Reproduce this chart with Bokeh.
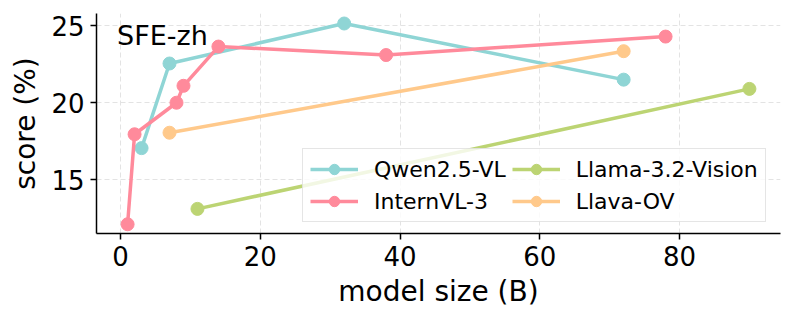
from bokeh.plotting import figure
from bokeh.models import Legend, LegendItem, Label, FixedTicker, Range1d
from bokeh.embed import file_html
from bokeh.resources import INLINE

# ---- data ----
qwen_x = [3, 7, 32, 72]
qwen_y = [17.05, 22.55, 25.15, 21.5]
intern_x = [1, 2, 8, 9, 14, 38, 78]
intern_y = [12.1, 17.95, 20.0, 21.1, 23.65, 23.1, 24.3]
llama_x = [11, 90]
llama_y = [13.1, 20.9]
llava_x = [7, 72]
llava_y = [18.05, 23.35]

series_names = ["Qwen2.5-VL", "InternVL-3", "Llama-3.2-Vision", "Llava-OV"]
series_colors = ["#8fd5d5", "#ff8a9b", "#bcd473", "#ffc98b"]
x_ticks = [0, 20, 40, 60, 80]
y_ticks = [15, 20, 25]
title_text = "SFE-zh"
x_label = "model size (B)"
y_label = "score (%)"

FONT = "DejaVu Sans"

p = figure(width=793, height=323, output_backend="svg", toolbar_location=None,
           x_range=Range1d(-3.45, 94.45), y_range=Range1d(11.5, 25.8),
           min_border_left=96, min_border_right=13, min_border_top=13, min_border_bottom=90)
p.outline_line_color = None
p.background_fill_color = "white"

for ax, ticks, lab in ((p.xaxis[0], x_ticks, x_label), (p.yaxis[0], y_ticks, y_label)):
    ax.ticker = FixedTicker(ticks=ticks)
    ax.axis_label = lab
    ax.axis_label_text_font = FONT
    ax.axis_label_text_font_size = "28px"
    ax.axis_label_text_font_style = "normal"
    ax.axis_label_text_color = "black"
    ax.major_label_text_font = FONT
    ax.major_label_text_font_size = "26px"
    ax.major_label_text_color = "black"
    ax.axis_line_width = 1.5
    ax.axis_line_color = "black"
    ax.major_tick_line_width = 1.5
    ax.major_tick_out = 6
    ax.major_tick_in = 0
    ax.minor_tick_line_color = None
    ax.major_label_standoff = 6
    ax.axis_label_standoff = 6

for g in (p.xgrid[0], p.ygrid[0]):
    g.grid_line_color = "#e3e3e3"
    g.grid_line_dash = "5 3"
    g.grid_line_width = 1

data = [(qwen_x, qwen_y), (intern_x, intern_y), (llama_x, llama_y), (llava_x, llava_y)]
items = []
for (xs, ys), name, col in zip(data, series_names, series_colors):
    r1 = p.line(xs, ys, line_color=col, line_width=3.5)
    r2 = p.scatter(xs, ys, size=13, fill_color=col, line_color=col)
    items.append(LegendItem(label=name, renderers=[r1, r2]))

legend = Legend(items=items, ncols=2, location=(206, 11))
legend.label_text_font = FONT
legend.label_text_font_size = "22px"
legend.label_text_color = "black"
legend.glyph_width = 48
legend.glyph_height = 26
legend.label_standoff = 16
legend.padding = 7
legend.spacing = 6
legend.margin = 0
legend.border_line_color = "#cccccc"
legend.border_line_width = 1.2
legend.background_fill_alpha = 0.8
p.add_layout(legend, "center")

title = Label(x=-0.5, y=24.35, text=title_text, text_font=FONT, text_font_size="27px",
              text_color="black", text_baseline="alphabetic", text_align="left")
p.add_layout(title)

open("out.html", "w").write(file_html(p, INLINE))
